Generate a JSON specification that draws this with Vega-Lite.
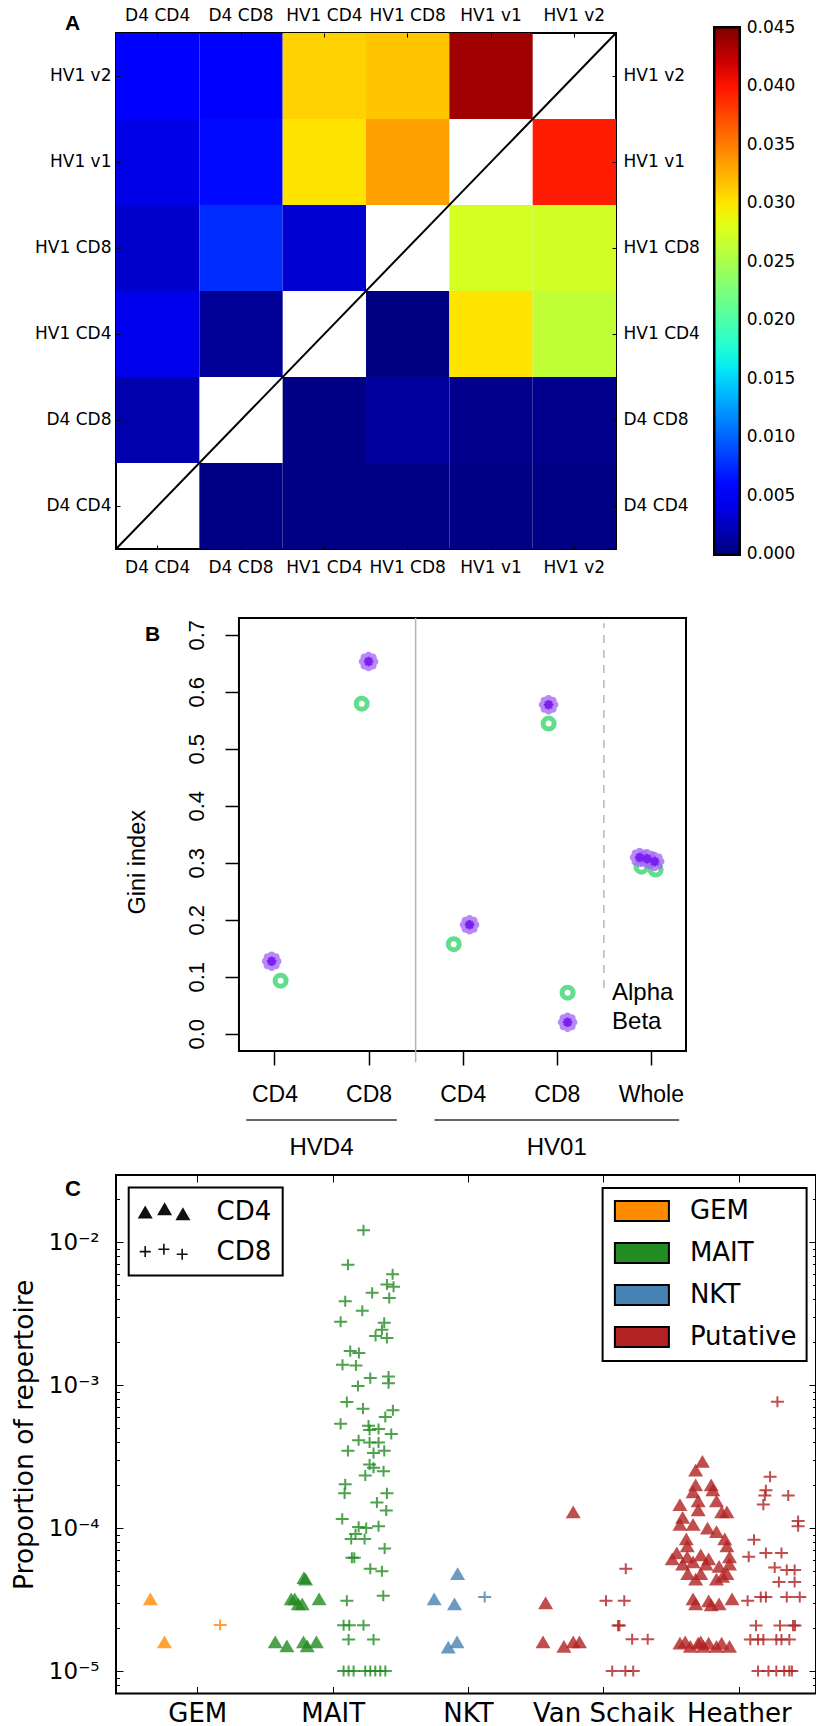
{
  "$schema": "https://vega.github.io/schema/vega-lite/v6.json",
  "padding": {"left": 10, "top": 5, "right": 0, "bottom": 0},
  "background": "white",
  "bounds": "flush",
  "spacing": 69,
  "resolve": {"scale": {"shape": "independent", "color": "independent", "stroke": "independent", "opacity": "independent"}, "legend": {"shape": "independent", "color": "independent", "stroke": "independent", "opacity": "independent"}},
  "config": {
    "view": {"stroke": null},
    "font": "DejaVu Sans",
    "axis": {"grid": false, "domain": false, "labelColor": "black", "tickColor": "black", "labelFlush": false, "labelOverlap": false, "titleColor": "black", "titleFontWeight": "normal"},
    "legend": {"strokeWidth": 2}
  },
  "datasets": {
    "heat": [
      {"row": "HV1 v2", "col": "D4 CD4", "value": 0.0050},
      {"row": "HV1 v2", "col": "D4 CD8", "value": 0.0050},
      {"row": "HV1 v2", "col": "HV1 CD4", "value": 0.0310},
      {"row": "HV1 v2", "col": "HV1 CD8", "value": 0.0315},
      {"row": "HV1 v2", "col": "HV1 v1", "value": 0.0437},
      {"row": "HV1 v1", "col": "D4 CD4", "value": 0.0040},
      {"row": "HV1 v1", "col": "D4 CD8", "value": 0.0060},
      {"row": "HV1 v1", "col": "HV1 CD4", "value": 0.0301},
      {"row": "HV1 v1", "col": "HV1 CD8", "value": 0.0333},
      {"row": "HV1 v1", "col": "HV1 v2", "value": 0.0396},
      {"row": "HV1 CD8", "col": "D4 CD4", "value": 0.0030},
      {"row": "HV1 CD8", "col": "D4 CD8", "value": 0.0076},
      {"row": "HV1 CD8", "col": "HV1 CD4", "value": 0.0031},
      {"row": "HV1 CD8", "col": "HV1 v1", "value": 0.0273},
      {"row": "HV1 CD8", "col": "HV1 v2", "value": 0.0272},
      {"row": "HV1 CD4", "col": "D4 CD4", "value": 0.0042},
      {"row": "HV1 CD4", "col": "D4 CD8", "value": 0.0009},
      {"row": "HV1 CD4", "col": "HV1 CD8", "value": 0.0001},
      {"row": "HV1 CD4", "col": "HV1 v1", "value": 0.0301},
      {"row": "HV1 CD4", "col": "HV1 v2", "value": 0.0263},
      {"row": "D4 CD8", "col": "D4 CD4", "value": 0.0017},
      {"row": "D4 CD8", "col": "HV1 CD4", "value": 0.0002},
      {"row": "D4 CD8", "col": "HV1 CD8", "value": 0.0011},
      {"row": "D4 CD8", "col": "HV1 v1", "value": 0.0005},
      {"row": "D4 CD8", "col": "HV1 v2", "value": 0.0005},
      {"row": "D4 CD4", "col": "D4 CD8", "value": 0.0002},
      {"row": "D4 CD4", "col": "HV1 CD4", "value": 0.0002},
      {"row": "D4 CD4", "col": "HV1 CD8", "value": 0.0002},
      {"row": "D4 CD4", "col": "HV1 v1", "value": 0.0002},
      {"row": "D4 CD4", "col": "HV1 v2", "value": 0.0002}
    ],
    "gini": [
      {"chain": "Alpha", "x": 1.065, "val": 0.093},
      {"chain": "Alpha", "x": 1.927, "val": 0.579},
      {"chain": "Alpha", "x": 2.905, "val": 0.157},
      {"chain": "Alpha", "x": 3.913, "val": 0.544},
      {"chain": "Alpha", "x": 4.90, "val": 0.293},
      {"chain": "Alpha", "x": 5.05, "val": 0.288},
      {"chain": "Beta", "x": 0.97, "val": 0.127},
      {"chain": "Beta", "x": 2.0, "val": 0.653},
      {"chain": "Beta", "x": 3.073, "val": 0.191},
      {"chain": "Beta", "x": 3.913, "val": 0.577},
      {"chain": "Beta", "x": 4.88, "val": 0.309},
      {"chain": "Beta", "x": 4.96, "val": 0.307},
      {"chain": "Beta", "x": 5.04, "val": 0.302}
    ],
    "rep": [
      {"g": "GEM", "c": "CD4", "x": -0.346, "p": 3.2e-5},
      {"g": "GEM", "c": "CD4", "x": -0.242, "p": 1.6e-5},
      {"g": "GEM", "c": "CD8", "x": 0.169, "p": 2.1e-5},
      {"g": "MAIT", "c": "CD4", "x": 0.788, "p": 4.5e-5},
      {"g": "MAIT", "c": "CD4", "x": 0.80, "p": 4.4e-5},
      {"g": "MAIT", "c": "CD4", "x": 0.694, "p": 3.2e-5},
      {"g": "MAIT", "c": "CD4", "x": 0.72, "p": 3.2e-5},
      {"g": "MAIT", "c": "CD4", "x": 0.746, "p": 2.95e-5},
      {"g": "MAIT", "c": "CD4", "x": 0.775, "p": 2.95e-5},
      {"g": "MAIT", "c": "CD4", "x": 0.90, "p": 3.2e-5},
      {"g": "MAIT", "c": "CD4", "x": 0.576, "p": 1.6e-5},
      {"g": "MAIT", "c": "CD4", "x": 0.662, "p": 1.5e-5},
      {"g": "MAIT", "c": "CD4", "x": 0.785, "p": 1.6e-5},
      {"g": "MAIT", "c": "CD4", "x": 0.812, "p": 1.5e-5},
      {"g": "MAIT", "c": "CD4", "x": 0.88, "p": 1.6e-5},
      {"g": "MAIT", "c": "CD8", "x": 1.228, "p": 0.0121},
      {"g": "MAIT", "c": "CD8", "x": 1.113, "p": 0.00695},
      {"g": "MAIT", "c": "CD8", "x": 1.443, "p": 0.00597},
      {"g": "MAIT", "c": "CD8", "x": 1.401, "p": 0.00506},
      {"g": "MAIT", "c": "CD8", "x": 1.450, "p": 0.00487},
      {"g": "MAIT", "c": "CD8", "x": 1.292, "p": 0.00442},
      {"g": "MAIT", "c": "CD8", "x": 1.418, "p": 0.00407},
      {"g": "MAIT", "c": "CD8", "x": 1.093, "p": 0.00386},
      {"g": "MAIT", "c": "CD8", "x": 1.219, "p": 0.00331},
      {"g": "MAIT", "c": "CD8", "x": 1.059, "p": 0.00278},
      {"g": "MAIT", "c": "CD8", "x": 1.381, "p": 0.00273},
      {"g": "MAIT", "c": "CD8", "x": 1.364, "p": 0.00244},
      {"g": "MAIT", "c": "CD8", "x": 1.317, "p": 0.00221},
      {"g": "MAIT", "c": "CD8", "x": 1.401, "p": 0.00214},
      {"g": "MAIT", "c": "CD8", "x": 1.130, "p": 0.00173},
      {"g": "MAIT", "c": "CD8", "x": 1.194, "p": 0.00168},
      {"g": "MAIT", "c": "CD8", "x": 1.073, "p": 0.00139},
      {"g": "MAIT", "c": "CD8", "x": 1.172, "p": 0.00137},
      {"g": "MAIT", "c": "CD8", "x": 1.278, "p": 0.00112},
      {"g": "MAIT", "c": "CD8", "x": 1.413, "p": 0.00115},
      {"g": "MAIT", "c": "CD8", "x": 1.413, "p": 0.00103},
      {"g": "MAIT", "c": "CD8", "x": 1.187, "p": 0.000986},
      {"g": "MAIT", "c": "CD8", "x": 1.105, "p": 0.000763},
      {"g": "MAIT", "c": "CD8", "x": 1.224, "p": 0.000685},
      {"g": "MAIT", "c": "CD8", "x": 1.445, "p": 0.000667},
      {"g": "MAIT", "c": "CD8", "x": 1.389, "p": 0.000598},
      {"g": "MAIT", "c": "CD8", "x": 1.059, "p": 0.000536},
      {"g": "MAIT", "c": "CD8", "x": 1.265, "p": 0.000521},
      {"g": "MAIT", "c": "CD8", "x": 1.273, "p": 0.000486},
      {"g": "MAIT", "c": "CD8", "x": 1.339, "p": 0.000494},
      {"g": "MAIT", "c": "CD8", "x": 1.433, "p": 0.000455},
      {"g": "MAIT", "c": "CD8", "x": 1.192, "p": 0.000412},
      {"g": "MAIT", "c": "CD8", "x": 1.273, "p": 0.000397},
      {"g": "MAIT", "c": "CD8", "x": 1.339, "p": 0.000397},
      {"g": "MAIT", "c": "CD8", "x": 1.113, "p": 0.000347},
      {"g": "MAIT", "c": "CD8", "x": 1.302, "p": 0.000335},
      {"g": "MAIT", "c": "CD8", "x": 1.381, "p": 0.000347},
      {"g": "MAIT", "c": "CD8", "x": 1.273, "p": 0.000279},
      {"g": "MAIT", "c": "CD8", "x": 1.302, "p": 0.000264},
      {"g": "MAIT", "c": "CD8", "x": 1.241, "p": 0.000233},
      {"g": "MAIT", "c": "CD8", "x": 1.376, "p": 0.000250},
      {"g": "MAIT", "c": "CD8", "x": 1.093, "p": 0.000203},
      {"g": "MAIT", "c": "CD8", "x": 1.088, "p": 0.000175},
      {"g": "MAIT", "c": "CD8", "x": 1.401, "p": 0.000175},
      {"g": "MAIT", "c": "CD8", "x": 1.327, "p": 0.000151},
      {"g": "MAIT", "c": "CD8", "x": 1.396, "p": 0.000133},
      {"g": "MAIT", "c": "CD8", "x": 1.071, "p": 0.000116},
      {"g": "MAIT", "c": "CD8", "x": 1.192, "p": 0.000102},
      {"g": "MAIT", "c": "CD8", "x": 1.248, "p": 0.000100},
      {"g": "MAIT", "c": "CD8", "x": 1.339, "p": 0.000103},
      {"g": "MAIT", "c": "CD8", "x": 1.169, "p": 9.1e-5},
      {"g": "MAIT", "c": "CD8", "x": 1.236, "p": 8.4e-5},
      {"g": "MAIT", "c": "CD8", "x": 1.137, "p": 8.4e-5},
      {"g": "MAIT", "c": "CD8", "x": 1.384, "p": 7.2e-5},
      {"g": "MAIT", "c": "CD8", "x": 1.142, "p": 6.2e-5},
      {"g": "MAIT", "c": "CD8", "x": 1.160, "p": 6.2e-5},
      {"g": "MAIT", "c": "CD8", "x": 1.278, "p": 5.2e-5},
      {"g": "MAIT", "c": "CD8", "x": 1.364, "p": 5.0e-5},
      {"g": "MAIT", "c": "CD8", "x": 1.105, "p": 3.1e-5},
      {"g": "MAIT", "c": "CD8", "x": 1.374, "p": 3.36e-5},
      {"g": "MAIT", "c": "CD8", "x": 1.081, "p": 2.09e-5},
      {"g": "MAIT", "c": "CD8", "x": 1.123, "p": 2.09e-5},
      {"g": "MAIT", "c": "CD8", "x": 1.228, "p": 2.09e-5},
      {"g": "MAIT", "c": "CD8", "x": 1.118, "p": 1.66e-5},
      {"g": "MAIT", "c": "CD8", "x": 1.302, "p": 1.66e-5},
      {"g": "MAIT", "c": "CD8", "x": 1.081, "p": 1e-5},
      {"g": "MAIT", "c": "CD8", "x": 1.118, "p": 1e-5},
      {"g": "MAIT", "c": "CD8", "x": 1.155, "p": 1e-5},
      {"g": "MAIT", "c": "CD8", "x": 1.241, "p": 1e-5},
      {"g": "MAIT", "c": "CD8", "x": 1.278, "p": 1e-5},
      {"g": "MAIT", "c": "CD8", "x": 1.315, "p": 1e-5},
      {"g": "MAIT", "c": "CD8", "x": 1.352, "p": 1e-5},
      {"g": "MAIT", "c": "CD8", "x": 1.389, "p": 1e-5},
      {"g": "NKT", "c": "CD4", "x": 1.923, "p": 4.8e-5},
      {"g": "NKT", "c": "CD4", "x": 1.75, "p": 3.2e-5},
      {"g": "NKT", "c": "CD4", "x": 1.90, "p": 2.95e-5},
      {"g": "NKT", "c": "CD4", "x": 1.854, "p": 1.47e-5},
      {"g": "NKT", "c": "CD4", "x": 1.919, "p": 1.6e-5},
      {"g": "NKT", "c": "CD8", "x": 2.123, "p": 3.3e-5},
      {"g": "Putative", "c": "CD4", "x": 2.777, "p": 1.3e-4},
      {"g": "Putative", "c": "CD4", "x": 2.573, "p": 3.0e-5},
      {"g": "Putative", "c": "CD4", "x": 2.554, "p": 1.6e-5},
      {"g": "Putative", "c": "CD4", "x": 2.708, "p": 1.49e-5},
      {"g": "Putative", "c": "CD4", "x": 2.777, "p": 1.6e-5},
      {"g": "Putative", "c": "CD4", "x": 2.823, "p": 1.6e-5},
      {"g": "Putative", "c": "CD8", "x": 3.165, "p": 5.2e-5},
      {"g": "Putative", "c": "CD8", "x": 3.019, "p": 3.1e-5},
      {"g": "Putative", "c": "CD8", "x": 3.154, "p": 3.1e-5},
      {"g": "Putative", "c": "CD8", "x": 3.108, "p": 2.08e-5},
      {"g": "Putative", "c": "CD8", "x": 3.118, "p": 2.08e-5},
      {"g": "Putative", "c": "CD8", "x": 3.212, "p": 1.67e-5},
      {"g": "Putative", "c": "CD8", "x": 3.327, "p": 1.67e-5},
      {"g": "Putative", "c": "CD8", "x": 3.065, "p": 1e-5},
      {"g": "Putative", "c": "CD8", "x": 3.162, "p": 1e-5},
      {"g": "Putative", "c": "CD8", "x": 3.22, "p": 1e-5},
      {"g": "Putative", "c": "CD4", "x": 3.731, "p": 2.93e-4},
      {"g": "Putative", "c": "CD4", "x": 3.681, "p": 2.54e-4},
      {"g": "Putative", "c": "CD4", "x": 3.565, "p": 1.46e-4},
      {"g": "Putative", "c": "CD4", "x": 3.681, "p": 2.01e-4},
      {"g": "Putative", "c": "CD4", "x": 3.796, "p": 2.01e-4},
      {"g": "Putative", "c": "CD4", "x": 3.662, "p": 1.79e-4},
      {"g": "Putative", "c": "CD4", "x": 3.808, "p": 1.85e-4},
      {"g": "Putative", "c": "CD4", "x": 3.70, "p": 1.55e-4},
      {"g": "Putative", "c": "CD4", "x": 3.835, "p": 1.55e-4},
      {"g": "Putative", "c": "CD4", "x": 3.585, "p": 1.19e-4},
      {"g": "Putative", "c": "CD4", "x": 3.70, "p": 1.34e-4},
      {"g": "Putative", "c": "CD4", "x": 3.873, "p": 1.30e-4},
      {"g": "Putative", "c": "CD4", "x": 3.912, "p": 1.30e-4},
      {"g": "Putative", "c": "CD4", "x": 3.565, "p": 1.06e-4},
      {"g": "Putative", "c": "CD4", "x": 3.662, "p": 1.06e-4},
      {"g": "Putative", "c": "CD4", "x": 3.769, "p": 1.0e-4},
      {"g": "Putative", "c": "CD4", "x": 3.835, "p": 9.45e-5},
      {"g": "Putative", "c": "CD4", "x": 3.612, "p": 8.4e-5},
      {"g": "Putative", "c": "CD4", "x": 3.896, "p": 8.4e-5},
      {"g": "Putative", "c": "CD4", "x": 3.619, "p": 7.5e-5},
      {"g": "Putative", "c": "CD4", "x": 3.912, "p": 7.5e-5},
      {"g": "Putative", "c": "CD4", "x": 3.542, "p": 6.7e-5},
      {"g": "Putative", "c": "CD4", "x": 3.508, "p": 6.1e-5},
      {"g": "Putative", "c": "CD4", "x": 3.619, "p": 6.3e-5},
      {"g": "Putative", "c": "CD4", "x": 3.719, "p": 6.5e-5},
      {"g": "Putative", "c": "CD4", "x": 3.777, "p": 6.1e-5},
      {"g": "Putative", "c": "CD4", "x": 3.931, "p": 6.3e-5},
      {"g": "Putative", "c": "CD4", "x": 3.585, "p": 5.6e-5},
      {"g": "Putative", "c": "CD4", "x": 3.662, "p": 5.8e-5},
      {"g": "Putative", "c": "CD4", "x": 3.758, "p": 5.6e-5},
      {"g": "Putative", "c": "CD4", "x": 3.854, "p": 5.4e-5},
      {"g": "Putative", "c": "CD4", "x": 3.931, "p": 5.6e-5},
      {"g": "Putative", "c": "CD4", "x": 3.623, "p": 4.8e-5},
      {"g": "Putative", "c": "CD4", "x": 3.719, "p": 4.8e-5},
      {"g": "Putative", "c": "CD4", "x": 3.912, "p": 4.8e-5},
      {"g": "Putative", "c": "CD4", "x": 3.681, "p": 4.4e-5},
      {"g": "Putative", "c": "CD4", "x": 3.835, "p": 4.4e-5},
      {"g": "Putative", "c": "CD4", "x": 3.88, "p": 4.6e-5},
      {"g": "Putative", "c": "CD4", "x": 3.662, "p": 3.2e-5},
      {"g": "Putative", "c": "CD4", "x": 3.681, "p": 2.95e-5},
      {"g": "Putative", "c": "CD4", "x": 3.777, "p": 3.1e-5},
      {"g": "Putative", "c": "CD4", "x": 3.854, "p": 2.95e-5},
      {"g": "Putative", "c": "CD4", "x": 3.95, "p": 3.2e-5},
      {"g": "Putative", "c": "CD4", "x": 3.796, "p": 2.9e-5},
      {"g": "Putative", "c": "CD4", "x": 3.565, "p": 1.57e-5},
      {"g": "Putative", "c": "CD4", "x": 3.642, "p": 1.49e-5},
      {"g": "Putative", "c": "CD4", "x": 3.70, "p": 1.57e-5},
      {"g": "Putative", "c": "CD4", "x": 3.739, "p": 1.49e-5},
      {"g": "Putative", "c": "CD4", "x": 3.777, "p": 1.57e-5},
      {"g": "Putative", "c": "CD4", "x": 3.835, "p": 1.49e-5},
      {"g": "Putative", "c": "CD4", "x": 3.873, "p": 1.57e-5},
      {"g": "Putative", "c": "CD4", "x": 3.931, "p": 1.49e-5},
      {"g": "Putative", "c": "CD4", "x": 3.604, "p": 1.6e-5},
      {"g": "Putative", "c": "CD4", "x": 3.719, "p": 1.6e-5},
      {"g": "Putative", "c": "CD8", "x": 4.285, "p": 7.65e-4},
      {"g": "Putative", "c": "CD8", "x": 4.231, "p": 2.29e-4},
      {"g": "Putative", "c": "CD8", "x": 4.2, "p": 1.84e-4},
      {"g": "Putative", "c": "CD8", "x": 4.192, "p": 1.69e-4},
      {"g": "Putative", "c": "CD8", "x": 4.365, "p": 1.69e-4},
      {"g": "Putative", "c": "CD8", "x": 4.181, "p": 1.46e-4},
      {"g": "Putative", "c": "CD8", "x": 4.438, "p": 1.12e-4},
      {"g": "Putative", "c": "CD8", "x": 4.438, "p": 1.03e-4},
      {"g": "Putative", "c": "CD8", "x": 4.112, "p": 8.3e-5},
      {"g": "Putative", "c": "CD8", "x": 4.073, "p": 6.3e-5},
      {"g": "Putative", "c": "CD8", "x": 4.2, "p": 6.7e-5},
      {"g": "Putative", "c": "CD8", "x": 4.315, "p": 6.7e-5},
      {"g": "Putative", "c": "CD8", "x": 4.265, "p": 5.3e-5},
      {"g": "Putative", "c": "CD8", "x": 4.354, "p": 5.1e-5},
      {"g": "Putative", "c": "CD8", "x": 4.412, "p": 5.1e-5},
      {"g": "Putative", "c": "CD8", "x": 4.296, "p": 4.2e-5},
      {"g": "Putative", "c": "CD8", "x": 4.412, "p": 4.2e-5},
      {"g": "Putative", "c": "CD8", "x": 4.065, "p": 3.1e-5},
      {"g": "Putative", "c": "CD8", "x": 4.162, "p": 3.3e-5},
      {"g": "Putative", "c": "CD8", "x": 4.2, "p": 3.3e-5},
      {"g": "Putative", "c": "CD8", "x": 4.354, "p": 3.3e-5},
      {"g": "Putative", "c": "CD8", "x": 4.45, "p": 3.3e-5},
      {"g": "Putative", "c": "CD8", "x": 4.127, "p": 2.08e-5},
      {"g": "Putative", "c": "CD8", "x": 4.304, "p": 2.08e-5},
      {"g": "Putative", "c": "CD8", "x": 4.4, "p": 2.08e-5},
      {"g": "Putative", "c": "CD8", "x": 4.415, "p": 2.08e-5},
      {"g": "Putative", "c": "CD8", "x": 4.085, "p": 1.66e-5},
      {"g": "Putative", "c": "CD8", "x": 4.142, "p": 1.66e-5},
      {"g": "Putative", "c": "CD8", "x": 4.181, "p": 1.66e-5},
      {"g": "Putative", "c": "CD8", "x": 4.277, "p": 1.66e-5},
      {"g": "Putative", "c": "CD8", "x": 4.315, "p": 1.66e-5},
      {"g": "Putative", "c": "CD8", "x": 4.373, "p": 1.66e-5},
      {"g": "Putative", "c": "CD8", "x": 4.142, "p": 1e-5},
      {"g": "Putative", "c": "CD8", "x": 4.219, "p": 1e-5},
      {"g": "Putative", "c": "CD8", "x": 4.277, "p": 1e-5},
      {"g": "Putative", "c": "CD8", "x": 4.335, "p": 1e-5},
      {"g": "Putative", "c": "CD8", "x": 4.373, "p": 1e-5},
      {"g": "Putative", "c": "CD8", "x": 4.392, "p": 1e-5}
    ]
  },
  "vconcat": [
    {
      "width": 500,
      "height": 516,
      "view": {"stroke": "black", "strokeWidth": 2},
      "layer": [
        {
          "data": {"name": "heat"},
          "mark": {"type": "rect"},
          "encoding": {
            "x": {"field": "col", "type": "nominal", "scale": {"domain": ["D4 CD4", "D4 CD8", "HV1 CD4", "HV1 CD8", "HV1 v1", "HV1 v2"], "padding": 0},
                  "axis": {"orient": "bottom", "title": null, "labelAngle": 0, "labelFont": "DejaVu Sans", "labelFontSize": 17, "tickSize": -4, "labelPadding": 14}},
            "y": {"field": "row", "type": "nominal", "scale": {"domain": ["HV1 v2", "HV1 v1", "HV1 CD8", "HV1 CD4", "D4 CD8", "D4 CD4"], "padding": 0},
                  "axis": {"orient": "left", "title": null, "labelFont": "DejaVu Sans", "labelFontSize": 17, "tickSize": -4, "labelPadding": 9}},
            "color": {
              "field": "value", "type": "quantitative",
              "scale": {
                "domain": [-0.00005, 0, 0.00495, 0.005625, 0.0153, 0.01575, 0.016875, 0.0288, 0.02925, 0.0297, 0.04005, 0.04095, 0.045, 0.04505],
                "range": ["#000080", "#000080", "#0000ff", "#0000ff", "#00dbff", "#00e6f7", "#14ffe2", "#eeff08", "#f7f500", "#ffec00", "#ff1300", "#e80000", "#800000", "#800000"],
                "interpolate": "rgb", "clamp": true, "zero": false, "nice": false
              },
              "legend": {
                "orient": "none", "legendX": 598.25, "legendY": -5.75, "type": "gradient", "direction": "vertical",
                "gradientLength": 527.5, "gradientThickness": 25.5, "gradientStrokeColor": "black", "gradientStrokeWidth": 2.5,
                "title": null, "values": [0, 0.005, 0.01, 0.015, 0.02, 0.025, 0.03, 0.035, 0.04, 0.045], "format": ".3f",
                "labelFont": "DejaVu Sans", "labelFontSize": 17, "labelColor": "black", "labelOffset": 7, "padding": 0
              }
            }
          }
        },
        {
          "data": {"name": "heat"},
          "mark": {"type": "rect", "opacity": 0},
          "encoding": {
            "x": {"field": "col", "type": "nominal", "scale": {"domain": ["D4 CD4", "D4 CD8", "HV1 CD4", "HV1 CD8", "HV1 v1", "HV1 v2"], "padding": 0},
                  "axis": {"orient": "top", "title": null, "labelAngle": 0, "labelFont": "DejaVu Sans", "labelFontSize": 17, "tickSize": -4, "labelPadding": 13}},
            "y": {"field": "row", "type": "nominal", "scale": {"domain": ["HV1 v2", "HV1 v1", "HV1 CD8", "HV1 CD4", "D4 CD8", "D4 CD4"], "padding": 0},
                  "axis": {"orient": "right", "title": null, "labelFont": "DejaVu Sans", "labelFontSize": 17, "tickSize": -4, "labelPadding": 11}}
          }
        },
        {
          "data": {"values": [{"a": 0, "b": 0, "a2": 1, "b2": 1}]},
          "mark": {"type": "rule", "color": "black", "strokeWidth": 2},
          "encoding": {
            "x": {"field": "a", "type": "quantitative", "scale": {"domain": [0, 1], "nice": false, "zero": false}, "axis": null},
            "x2": {"field": "a2"},
            "y": {"field": "b", "type": "quantitative", "scale": {"domain": [0, 1], "nice": false, "zero": false}, "axis": null},
            "y2": {"field": "b2"}
          }
        },
        {
          "data": {"values": [{"a": -0.102, "b": 1.0058, "t": "A"}]},
          "mark": {"type": "text", "align": "left", "baseline": "alphabetic", "font": "Liberation Sans", "fontSize": 21, "fontWeight": "bold", "color": "black"},
          "encoding": {
            "x": {"field": "a", "type": "quantitative", "scale": {"domain": [0, 1], "nice": false, "zero": false}, "axis": null},
            "y": {"field": "b", "type": "quantitative", "scale": {"domain": [0, 1], "nice": false, "zero": false}, "axis": null},
            "text": {"field": "t"}
          }
        }
      ],
      "resolve": {"scale": {"x": "independent", "y": "independent"}, "axis": {"x": "independent", "y": "independent"}}
    },
    {
      "width": 570,
      "height": 487.5,
      "layer": [
        {
          "data": {"values": [{"x": 0.6227, "x2": 5.373, "val": -0.0304, "val2": 0.7293}]},
          "mark": {"type": "rect", "filled": false, "stroke": "black", "strokeWidth": 2},
          "encoding": {
            "x": {"field": "x", "type": "quantitative", "scale": {"domain": [-0.684, 5.373], "nice": false, "zero": false},
                  "axis": {"orient": "bottom", "offset": -54.5, "values": [1, 2, 3, 4, 5], "labelExpr": "['','CD4','CD8','CD4','CD8','Whole'][datum.value]", "tickSize": 14, "tickWidth": 1.5, "labelFont": "Liberation Sans", "labelFontSize": 23, "labelPadding": 18, "labelAngle": 0, "title": null}},
            "x2": {"field": "x2"},
            "y": {"field": "val", "type": "quantitative", "scale": {"domain": [-0.126, 0.7293], "nice": false, "zero": false},
                  "axis": {"orient": "left", "offset": -123, "values": [0, 0.1, 0.2, 0.3, 0.4, 0.5, 0.6, 0.7], "format": ".1f", "labelAngle": -90, "labelAlign": "center", "labelBaseline": "bottom", "tickSize": 14, "tickWidth": 1.5, "labelFont": "Liberation Sans", "labelFontSize": 22, "labelPadding": 17, "title": "Gini index", "titleFont": "Liberation Sans", "titleFontSize": 23.5, "titlePadding": 36}},
            "y2": {"field": "val2"}
          }
        },
        {
          "data": {"values": [{"x": 2.5, "val": -0.05, "val2": 0.7293}]},
          "mark": {"type": "rule", "color": "#b3b3b3", "strokeWidth": 1.5},
          "encoding": {
            "x": {"field": "x", "type": "quantitative", "axis": null},
            "y": {"field": "val", "type": "quantitative", "axis": null},
            "y2": {"field": "val2"}
          }
        },
        {
          "data": {"values": [{"x": 4.5, "val": 0.08, "val2": 0.72}]},
          "mark": {"type": "rule", "color": "#b8b8b8", "strokeWidth": 1.5, "strokeDash": [8, 7]},
          "encoding": {
            "x": {"field": "x", "type": "quantitative", "axis": null},
            "y": {"field": "val", "type": "quantitative", "axis": null},
            "y2": {"field": "val2"}
          }
        },
        {
          "data": {"name": "gini"},
          "transform": [{"filter": "datum.chain === 'Alpha'"}],
          "mark": {"type": "point", "shape": "circle", "filled": false, "stroke": "#62dd8b", "strokeWidth": 5, "size": 121, "opacity": 1},
          "encoding": {
            "x": {"field": "x", "type": "quantitative", "axis": null},
            "y": {"field": "val", "type": "quantitative", "axis": null}
          }
        },
        {
          "data": {"name": "gini"},
          "transform": [{"filter": "datum.chain === 'Beta'"}],
          "mark": {"type": "point", "shape": "M0.98,0A0.38,0.38,0,1,0,0.22,0A0.38,0.38,0,1,0,0.98,0ZM0.804,0.424A0.38,0.38,0,1,0,0.044,0.424A0.38,0.38,0,1,0,0.804,0.424ZM0.38,0.6A0.38,0.38,0,1,0,-0.38,0.6A0.38,0.38,0,1,0,0.38,0.6ZM-0.044,0.424A0.38,0.38,0,1,0,-0.804,0.424A0.38,0.38,0,1,0,-0.044,0.424ZM-0.22,0A0.38,0.38,0,1,0,-0.98,0A0.38,0.38,0,1,0,-0.22,0ZM-0.044,-0.424A0.38,0.38,0,1,0,-0.804,-0.424A0.38,0.38,0,1,0,-0.044,-0.424ZM0.38,-0.6A0.38,0.38,0,1,0,-0.38,-0.6A0.38,0.38,0,1,0,0.38,-0.6ZM0.804,-0.424A0.38,0.38,0,1,0,0.044,-0.424A0.38,0.38,0,1,0,0.804,-0.424Z", "filled": true, "fill": "#a56cf5", "fillOpacity": 0.8, "strokeWidth": 0, "size": 400},
          "encoding": {
            "x": {"field": "x", "type": "quantitative", "axis": null},
            "y": {"field": "val", "type": "quantitative", "axis": null}
          }
        },
        {
          "data": {"name": "gini"},
          "transform": [{"filter": "datum.chain === 'Beta'"}],
          "mark": {"type": "point", "shape": "M-1,0H1M0,-1V1M-0.7,-0.7L0.7,0.7M-0.7,0.7L0.7,-0.7", "filled": false, "stroke": "#7a20ee", "strokeWidth": 2.5, "size": 90, "opacity": 1},
          "encoding": {
            "x": {"field": "x", "type": "quantitative", "axis": null},
            "y": {"field": "val", "type": "quantitative", "axis": null}
          }
        },
        {
          "data": {"values": [{"x": 4.115, "val": 0.072}]},
          "mark": {"type": "point", "shape": "circle", "filled": false, "stroke": "#62dd8b", "strokeWidth": 5, "size": 121, "opacity": 1},
          "encoding": {
            "x": {"field": "x", "type": "quantitative", "axis": null},
            "y": {"field": "val", "type": "quantitative", "axis": null}
          }
        },
        {
          "data": {"values": [{"x": 4.115, "val": 0.020}]},
          "mark": {"type": "point", "shape": "M0.98,0A0.38,0.38,0,1,0,0.22,0A0.38,0.38,0,1,0,0.98,0ZM0.804,0.424A0.38,0.38,0,1,0,0.044,0.424A0.38,0.38,0,1,0,0.804,0.424ZM0.38,0.6A0.38,0.38,0,1,0,-0.38,0.6A0.38,0.38,0,1,0,0.38,0.6ZM-0.044,0.424A0.38,0.38,0,1,0,-0.804,0.424A0.38,0.38,0,1,0,-0.044,0.424ZM-0.22,0A0.38,0.38,0,1,0,-0.98,0A0.38,0.38,0,1,0,-0.22,0ZM-0.044,-0.424A0.38,0.38,0,1,0,-0.804,-0.424A0.38,0.38,0,1,0,-0.044,-0.424ZM0.38,-0.6A0.38,0.38,0,1,0,-0.38,-0.6A0.38,0.38,0,1,0,0.38,-0.6ZM0.804,-0.424A0.38,0.38,0,1,0,0.044,-0.424A0.38,0.38,0,1,0,0.804,-0.424Z", "filled": true, "fill": "#a56cf5", "fillOpacity": 0.8, "strokeWidth": 0, "size": 400},
          "encoding": {
            "x": {"field": "x", "type": "quantitative", "axis": null},
            "y": {"field": "val", "type": "quantitative", "axis": null}
          }
        },
        {
          "data": {"values": [{"x": 4.115, "val": 0.020}]},
          "mark": {"type": "point", "shape": "M-1,0H1M0,-1V1M-0.7,-0.7L0.7,0.7M-0.7,0.7L0.7,-0.7", "filled": false, "stroke": "#7a20ee", "strokeWidth": 2.5, "size": 90, "opacity": 1},
          "encoding": {
            "x": {"field": "x", "type": "quantitative", "axis": null},
            "y": {"field": "val", "type": "quantitative", "axis": null}
          }
        },
        {
          "data": {"values": [{"x": 4.587, "val": 0.072, "t": "Alpha"}, {"x": 4.587, "val": 0.020, "t": "Beta"}]},
          "mark": {"type": "text", "align": "left", "baseline": "middle", "font": "Liberation Sans", "fontSize": 24, "color": "black"},
          "encoding": {
            "x": {"field": "x", "type": "quantitative", "axis": null},
            "y": {"field": "val", "type": "quantitative", "axis": null},
            "text": {"field": "t"}
          }
        },
        {
          "data": {"values": [{"x": 0.7, "x2": 2.3, "val": -0.1514}, {"x": 2.7, "x2": 5.3, "val": -0.1514}]},
          "mark": {"type": "rule", "color": "#333333", "strokeWidth": 1.5},
          "encoding": {
            "x": {"field": "x", "type": "quantitative", "axis": null},
            "x2": {"field": "x2"},
            "y": {"field": "val", "type": "quantitative", "axis": null}
          }
        },
        {
          "data": {"values": [{"x": 1.5, "val": -0.2005, "t": "HVD4"}, {"x": 4.0, "val": -0.2005, "t": "HV01"}]},
          "mark": {"type": "text", "align": "center", "baseline": "middle", "font": "Liberation Sans", "fontSize": 24, "color": "black"},
          "encoding": {
            "x": {"field": "x", "type": "quantitative", "axis": null},
            "y": {"field": "val", "type": "quantitative", "axis": null},
            "text": {"field": "t"}
          }
        },
        {
          "data": {"values": [{"x": -0.376, "val": 0.6889, "t": "B"}]},
          "mark": {"type": "text", "align": "left", "baseline": "alphabetic", "font": "Liberation Sans", "fontSize": 21, "fontWeight": "bold", "color": "black"},
          "encoding": {
            "x": {"field": "x", "type": "quantitative", "axis": null},
            "y": {"field": "val", "type": "quantitative", "axis": null},
            "text": {"field": "t"}
          }
        }
      ],
      "resolve": {"axis": {"x": "independent", "y": "independent"}}
    },
    {
      "width": 700,
      "height": 518.5,
      "view": {"stroke": "black", "strokeWidth": 2},
      "data": {"name": "rep"},
      "layer": [
        {
          "transform": [{"filter": "datum.c === 'CD4'"}],
          "mark": {"type": "point", "shape": "M0,-0.85L1,0.85L-1,0.85Z", "filled": true, "size": 225, "opacity": 0.8},
          "encoding": {
            "x": {"field": "x", "type": "quantitative", "scale": {"domain": [-0.6, 4.57], "nice": false, "zero": false},
                  "axis": {"orient": "bottom", "values": [0, 1, 2, 3, 4], "labelExpr": "['GEM','MAIT','NKT','Van Schaik','Heather'][datum.value]", "ticks": false, "labelFont": "DejaVu Sans", "labelFontSize": 26, "labelPadding": 7, "labelAngle": 0, "title": null}},
            "y": {"field": "p", "type": "quantitative", "scale": {"type": "log", "domain": [6.97e-6, 0.0295], "nice": false},
                  "axis": {"orient": "left", "values": [0.00001, 0.0001, 0.001, 0.01], "labelExpr": "datum.value < 0.00005 ? '10\u207b\u2075' : datum.value < 0.0005 ? '10\u207b\u2074' : datum.value < 0.005 ? '10\u207b\u00b3' : '10\u207b\u00b2'", "ticks": false, "labelFont": "DejaVu Sans", "labelFontSize": 23, "labelPadding": 17, "title": "Proportion of repertoire", "titleFont": "DejaVu Sans", "titleFontSize": 26.5, "titlePadding": 9.5}},
            "color": {
              "field": "g", "type": "nominal",
              "scale": {"domain": ["GEM", "MAIT", "NKT", "Putative"], "range": ["#ff8c00", "#228b22", "#4682b4", "#b22222"]},
              "legend": {
                "orient": "none", "legendX": 486.6, "legendY": 13, "title": null, "direction": "vertical",
                "padding": 10, "strokeColor": "black", "fillColor": "white",
                "symbolType": "M-5.4,-2H5.4V2H-5.4Z", "symbolSize": 100, "symbolOffset": 16.3, "labelOffset": 35,
                "symbolStrokeColor": "black", "symbolStrokeWidth": 2, "symbolOpacity": 1,
                "labelFont": "DejaVu Sans", "labelFontSize": 26, "labelColor": "black", "rowPadding": 14
              }
            }
          }
        },
        {
          "transform": [{"filter": "datum.c === 'CD8'"}],
          "mark": {"type": "point", "shape": "M-1,0H1M0,-0.85V0.85", "filled": false, "size": 169, "strokeWidth": 2, "opacity": 0.8},
          "encoding": {
            "x": {"field": "x", "type": "quantitative", "scale": {"domain": [-0.6, 4.57], "nice": false, "zero": false}, "axis": null},
            "y": {"field": "p", "type": "quantitative", "scale": {"type": "log", "domain": [6.97e-6, 0.0295], "nice": false}, "axis": null},
            "color": {"field": "g", "type": "nominal", "scale": {"domain": ["GEM", "MAIT", "NKT", "Putative"], "range": ["#ff8c00", "#228b22", "#4682b4", "#b22222"]}, "legend": null}
          }
        },
        {
          "transform": [{"filter": "false"}],
          "mark": {"type": "point", "filled": true, "fill": "#111111", "stroke": "#111111", "strokeWidth": 1.5, "opacity": 1},
          "encoding": {
            "x": {"field": "x", "type": "quantitative", "scale": {"domain": [-0.6, 4.57], "nice": false, "zero": false}, "axis": null},
            "y": {"field": "p", "type": "quantitative", "scale": {"type": "log", "domain": [6.97e-6, 0.0295], "nice": false}, "axis": null},
            "shape": {
              "field": "c", "type": "nominal",
              "scale": {"domain": ["CD4", "CD8"], "range": [
                "M-5.3,1.42L-2.3,1.42L-3.8,-1.18ZM-1.42,0.74L1.58,0.74L0.08,-1.86ZM2.24,1.76L5.24,1.76L3.74,-0.84Z",
                "M-4.9,-0.14H-2.7V0.18H-4.9ZM-3.96,-1.08H-3.64V1.12H-3.96ZM-1.16,-0.62H1.04V-0.3H-1.16ZM-0.22,-1.56H0.1V0.64H-0.22ZM2.5,0.38H4.7V0.7H2.5ZM3.44,-0.56H3.76V1.64H3.44Z"
              ]},
              "legend": {
                "orient": "none", "legendX": 12.7, "legendY": 12.5, "title": null, "direction": "vertical",
                "padding": 11, "strokeColor": "black", "fillColor": "white",
                "symbolSize": 100, "symbolOffset": 11.5, "labelOffset": 39.4, "symbolOpacity": 1,
                "symbolFillColor": "#111111", "symbolStrokeColor": "#111111", "symbolStrokeWidth": 1.5,
                "labelFont": "DejaVu Sans", "labelFontSize": 26, "labelColor": "black", "rowPadding": 14
              }
            }
          }
        },
        {
          "data": {"values": [{"x": -0.9767, "p": 0.02104, "t": "C"}]},
          "mark": {"type": "text", "align": "left", "baseline": "alphabetic", "font": "Liberation Sans", "fontSize": 22, "fontWeight": "bold", "color": "black"},
          "encoding": {
            "x": {"field": "x", "type": "quantitative", "scale": {"domain": [-0.6, 4.57], "nice": false, "zero": false}, "axis": null},
            "y": {"field": "p", "type": "quantitative", "scale": {"type": "log", "domain": [6.97e-6, 0.0295], "nice": false}, "axis": null},
            "text": {"field": "t"}
          }
        },
        {
          "mark": {"type": "point", "opacity": 0},
          "encoding": {
            "x": {"field": "x", "type": "quantitative", "scale": {"domain": [-0.6, 4.57], "nice": false, "zero": false},
                  "axis": {"orient": "top", "values": [0, 1, 2, 3, 4], "labels": false, "tickSize": -7, "title": null}},
            "y": {"field": "p", "type": "quantitative", "scale": {"type": "log", "domain": [6.97e-6, 0.0295], "nice": false},
                  "axis": {"orient": "right", "values": [0.00001, 0.0001, 0.001, 0.01], "labels": false, "tickSize": -7, "title": null}}
          }
        },
        {
          "mark": {"type": "point", "opacity": 0},
          "encoding": {
            "x": {"field": "x", "type": "quantitative", "scale": {"domain": [-0.6, 4.57], "nice": false, "zero": false},
                  "axis": {"orient": "bottom", "values": [0, 1, 2, 3, 4], "labels": false, "tickSize": -7, "title": null}},
            "y": {"field": "p", "type": "quantitative", "scale": {"type": "log", "domain": [6.97e-6, 0.0295], "nice": false},
                  "axis": {"orient": "left", "values": [0.00001, 0.0001, 0.001, 0.01], "labels": false, "tickSize": -7, "title": null}}
          }
        },
        {
          "mark": {"type": "point", "opacity": 0},
          "encoding": {
            "x": {"field": "x", "type": "quantitative", "scale": {"domain": [-0.6, 4.57], "nice": false, "zero": false}, "axis": null},
            "y": {"field": "p", "type": "quantitative", "scale": {"type": "log", "domain": [6.97e-6, 0.0295], "nice": false},
                  "axis": {"orient": "left", "values": [0.000007, 0.000008, 0.000009, 0.00002, 0.00003, 0.00004, 0.00005, 0.00006, 0.00007, 0.00008, 0.00009, 0.0002, 0.0003, 0.0004, 0.0005, 0.0006, 0.0007, 0.0008, 0.0009, 0.002, 0.003, 0.004, 0.005, 0.006, 0.007, 0.008, 0.009, 0.02], "labels": false, "tickSize": -3.5, "title": null}}
          }
        },
        {
          "mark": {"type": "point", "opacity": 0},
          "encoding": {
            "x": {"field": "x", "type": "quantitative", "scale": {"domain": [-0.6, 4.57], "nice": false, "zero": false}, "axis": null},
            "y": {"field": "p", "type": "quantitative", "scale": {"type": "log", "domain": [6.97e-6, 0.0295], "nice": false},
                  "axis": {"orient": "right", "values": [0.000007, 0.000008, 0.000009, 0.00002, 0.00003, 0.00004, 0.00005, 0.00006, 0.00007, 0.00008, 0.00009, 0.0002, 0.0003, 0.0004, 0.0005, 0.0006, 0.0007, 0.0008, 0.0009, 0.002, 0.003, 0.004, 0.005, 0.006, 0.007, 0.008, 0.009, 0.02], "labels": false, "tickSize": -3.5, "title": null}}
          }
        }
      ],
      "resolve": {"axis": {"x": "independent", "y": "independent"}, "legend": {"color": "independent"}}
    }
  ]
}
